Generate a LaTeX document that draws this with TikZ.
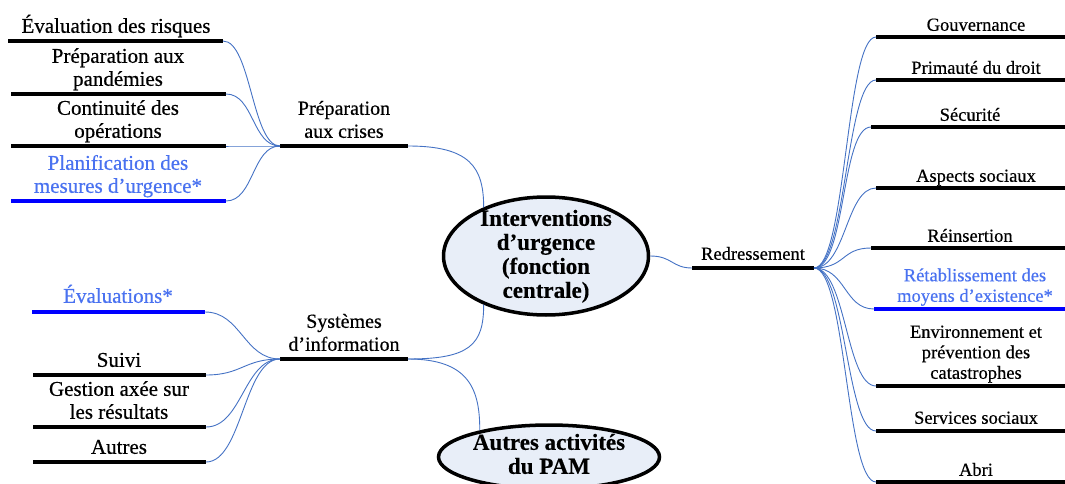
\documentclass[tikz,border=0pt]{standalone}
\usepackage{fontspec}
\setmainfont{Liberation Serif}[UprightFeatures={FakeBold=0.5},BoldFeatures={FakeBold=0.4}]
\usetikzlibrary{shapes.geometric}
\definecolor{connblue}{HTML}{4472C4}
\definecolor{bluetext}{HTML}{4A72F0}
\definecolor{bluebar}{HTML}{0000FF}
\definecolor{efill}{HTML}{E8EEF8}
\tikzset{
  bar/.style={line width=4pt, draw=black},
  bluebarline/.style={line width=4pt, draw=bluebar},
  link/.style={draw=connblue, line width=0.9pt},
  lbl/.style={anchor=south, inner sep=0pt, text depth=0pt, align=center},
  leftitem/.style={lbl, font=\fontsize{21}{23}\selectfont},
  hubtext/.style={lbl, font=\fontsize{20}{23}\selectfont},
  rightitem/.style={lbl, font=\fontsize{18.5}{20.5}\selectfont},
  hl/.style={text=bluetext},
  bubble/.style={ellipse, draw=black, line width=3.5pt, fill=efill, inner sep=0pt},
  bubbletext/.style={lbl, font=\bfseries\fontsize{23}{24}\selectfont}
}
\begin{document}
\begin{tikzpicture}[x=1pt,y=-1pt]
\useasboundingbox (0,0) rectangle (1065,484);
\clip (0,0) rectangle (1065,484);

% ---------- central bubbles
\node[bubble, minimum width=205pt, minimum height=118pt] (core) at (546,256) {};
\node[bubbletext] (coretext) at (546,298) {Interventions\\d’urgence\\(fonction\\centrale)};
\node[bubble, minimum width=221pt, minimum height=64pt] (other) at (549,457) {};
\node[bubbletext] (othertext) at (549,474) {Autres activités\\du PAM};

% ---------- hub: Préparation aux crises
\coordinate (h1l) at (280,146); \coordinate (h1r) at (408,146);
\draw[bar] (h1l) -- (h1r);
\node[hubtext] (h1t) at (344,138) {Préparation\\aux crises};

% items
\coordinate (a1l) at (8,41);   \coordinate (a1r) at (223,41);
\coordinate (a2l) at (11,94);  \coordinate (a2r) at (226,94);
\coordinate (a3l) at (11,146); \coordinate (a3r) at (226,146);
\coordinate (a4l) at (11,201); \coordinate (a4r) at (226,201);
\draw[bar] (a1l) -- (a1r);
\draw[bar] (a2l) -- (a2r);
\draw[bar] (a3l) -- (a3r);
\draw[bluebarline] (a4l) -- (a4r);
\node[leftitem] (a1t) at (116,33) {Évaluation des risques};
\node[leftitem] (a2t) at (118,86) {Préparation aux\\pandémies};
\node[leftitem] (a3t) at (118,138) {Continuité des\\opérations};
\node[leftitem, hl] (a4t) at (118,193) {Planification des\\mesures d’urgence*};
\foreach \p in {a1r,a2r,a3r,a4r}
  \draw[link] (\p) .. controls +(28,0) and +(-28,0) .. (h1l);

% ---------- hub: Systèmes d'information
\coordinate (h2l) at (280,359); \coordinate (h2r) at (408,359);
\draw[bar] (h2l) -- (h2r);
\node[hubtext] (h2t) at (344,351) {Systèmes\\d’information};

\coordinate (b1l) at (32,312);  \coordinate (b1r) at (205,312);
\coordinate (b2l) at (33,375);  \coordinate (b2r) at (206,375);
\coordinate (b3l) at (33,427);  \coordinate (b3r) at (206,427);
\coordinate (b4l) at (33,462);  \coordinate (b4r) at (206,462);
\draw[bluebarline] (b1l) -- (b1r);
\draw[bar] (b2l) -- (b2r);
\draw[bar] (b3l) -- (b3r);
\draw[bar] (b4l) -- (b4r);
\node[leftitem, hl] (b1t) at (118,303) {Évaluations*};
\node[leftitem] (b2t) at (119,367) {Suivi};
\node[leftitem] (b3t) at (119,419) {Gestion axée sur\\les résultats};
\node[leftitem] (b4t) at (119,454) {Autres};
\foreach \p in {b1r,b2r,b3r,b4r}
  \draw[link] (\p) .. controls +(36,0) and +(-36,0) .. (h2l);

% ---------- hub connections to bubbles
\draw[link] (h1r) .. controls +(62,0) and +(0,-40) .. (core.142);
\draw[link] (h2r) .. controls +(62,0) and +(0,40) .. (core.218);
\draw[link] (h2r) .. controls +(62,0) and +(0,-40) .. (other.159);

% ---------- hub: Redressement
\coordinate (rl) at (692,268); \coordinate (rr) at (814,268);
\draw[bar] (rl) -- (rr);
\node[rightitem] (rt) at (753,260) {Redressement};
\draw[link] (core.east) .. controls +(22,0) and +(-20,0) .. (rl);

\coordinate (r1) at (876,37);
\coordinate (r2) at (876,80);
\coordinate (r3) at (871,127);
\coordinate (r4) at (876,188);
\coordinate (r5) at (871,248);
\coordinate (r6) at (874,309);
\coordinate (r7) at (876,386);
\coordinate (r8) at (876,431);
\coordinate (r9) at (876,482);
\foreach \p in {r1,r2,r3,r4,r5,r7,r8,r9}
  \draw[bar] (\p) -- ++(200,0);
\draw[bluebarline] (r6) -- ++(200,0);
\node[rightitem] (r1t) at (976,31) {Gouvernance};
\node[rightitem] (r2t) at (976,74) {Primauté du droit};
\node[rightitem] (r3t) at (970,121) {Sécurité};
\node[rightitem] (r4t) at (976,182) {Aspects sociaux};
\node[rightitem] (r5t) at (970,242) {Réinsertion};
\node[rightitem, hl] (r6t) at (975,302) {Rétablissement des\\moyens d’existence*};
\node[rightitem] (r7t) at (976,379) {Environnement et\\prévention des\\catastrophes};
\node[rightitem] (r8t) at (976,424) {Services sociaux};
\node[rightitem] (r9t) at (976,476) {Abri};
\foreach \p in {r1,r2,r3,r4,r5,r6,r7,r8,r9}
  \draw[link] (rr) .. controls +(32,0) and +(-30,0) .. (\p);
\end{tikzpicture}
\end{document}
